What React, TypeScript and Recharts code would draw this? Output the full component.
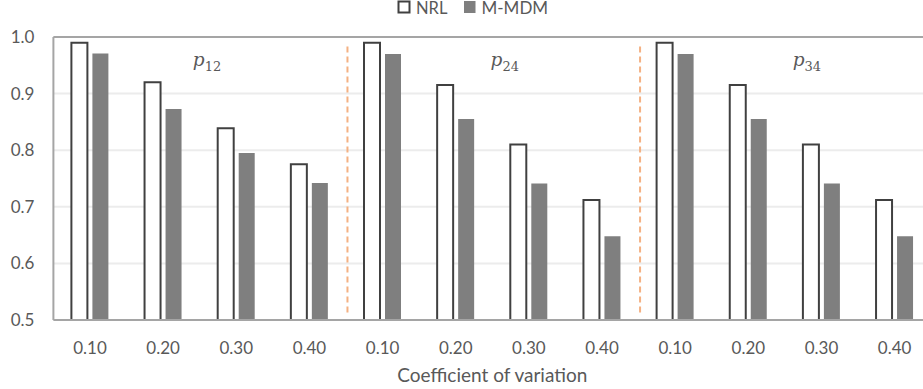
import React from 'react';
import {
  BarChart,
  Bar,
  XAxis,
  YAxis,
  CartesianGrid,
  ReferenceLine,
  ReferenceDot,
} from 'recharts';

const categories = ['0.10', '0.20', '0.30', '0.40', '0.10', '0.20', '0.30', '0.40', '0.10', '0.20', '0.30', '0.40'];
const nrlValues = [0.99, 0.92, 0.839, 0.775, 0.99, 0.915, 0.81, 0.712, 0.99, 0.915, 0.81, 0.712];
const mmdmValues = [0.971, 0.873, 0.795, 0.742, 0.97, 0.855, 0.741, 0.648, 0.97, 0.855, 0.741, 0.648];
const yTicks = [0.5, 0.6, 0.7, 0.8, 0.9, 1.0];
const panelNames = [
  { sub: '12', pos: 2.1 },
  { sub: '24', pos: 6.17 },
  { sub: '34', pos: 10.3 },
];
const separators = [4.02, 8.02];

const data = categories.map((c, i) => ({ cat: c, pos: i + 0.5, NRL: nrlValues[i], MMDM: mmdmValues[i] }));

const TEXT = '#595959';
const FONT = 'Lato, "Open Sans", sans-serif';
const BORDER = '#a5a5a5';

const makePLabel = (sub: string) => (props: any) => {
  const vb = props.viewBox || {};
  const cx = (vb.x ?? 0) + (vb.width ?? 0) / 2;
  const cy = (vb.y ?? 0) + (vb.height ?? 0) / 2;
  return (
    <text x={cx} y={cy} textAnchor="middle" fill={TEXT}>
      <tspan fontFamily='"DejaVu Serif", serif' fontStyle="italic" fontSize={18.5}>p</tspan>
      <tspan fontFamily='"DejaVu Serif", serif' fontSize={13} dy={4.7}>{sub}</tspan>
    </text>
  );
};

const AxisTitle = (props: any) => {
  const vb = props.viewBox || {};
  return (
    <text
      x={(vb.x ?? 0) + (vb.width ?? 0) / 2}
      y={(vb.y ?? 0) + 61.5}
      textAnchor="middle"
      fill={TEXT}
      fontSize={19}
      fontFamily={FONT}
    >
      Coefficient of variation
    </text>
  );
};

export default function App() {
  return (
    <div style={{ position: 'absolute', top: 0, left: 0, width: 923, height: 389, overflow: 'hidden', background: '#fff' }}>
      <BarChart
        width={960}
        height={389}
        data={data}
        margin={{ top: 37, right: 28.8, bottom: 0, left: 0 }}
        barSize={16}
        barGap={5}
      >
        <CartesianGrid vertical={false} stroke="#ececec" strokeWidth={2} />
        <XAxis
          dataKey="cat"
          interval={0}
          height={69}
          tickLine={false}
          tickSize={6}
          tickMargin={16}
          axisLine={{ stroke: BORDER, strokeWidth: 2 }}
          tick={{ fill: TEXT, fontSize: 17, fontFamily: FONT }}
          label={{ content: AxisTitle }}
        />
        <XAxis xAxisId="n" dataKey="pos" type="number" domain={[0, 12]} allowDataOverflow hide />
        <YAxis
          domain={[0.5, 1.0]}
          ticks={yTicks}
          width={53.4}
          tickLine={false}
          tickSize={6}
          tickMargin={13}
          tickFormatter={(v: number) => v.toFixed(1)}
          axisLine={{ stroke: BORDER, strokeWidth: 2 }}
          tick={{ fill: TEXT, fontSize: 17, fontFamily: FONT }}
          allowDataOverflow
        />
        <ReferenceLine y={1.0} stroke={BORDER} strokeWidth={2} />
        <Bar dataKey="NRL" fill="#ffffff" stroke="#404040" strokeWidth={2} isAnimationActive={false} />
        <Bar dataKey="MMDM" fill="#7f7f7f" isAnimationActive={false} />
        {separators.map((s) => (
          <ReferenceLine
            key={s}
            xAxisId="n"
            segment={[
              { x: s, y: 0.983 },
              { x: s, y: 0.513 },
            ]}
            stroke="#f4b183"
            strokeWidth={2}
            strokeDasharray="6 4"
          />
        ))}
        {panelNames.map((p) => (
          <ReferenceDot
            key={p.sub}
            xAxisId="n"
            x={p.pos}
            y={0.948}
            r={1}
            fill="none"
            stroke="none"
            label={{ content: makePLabel(p.sub) }}
          />
        ))}
      </BarChart>
      <svg width={923} height={22} style={{ position: 'absolute', top: 0, left: 0 }}>
        <rect x={398.5} y={1.5} width={11} height={11} fill="#fff" stroke="#404040" strokeWidth={2} />
        <text x={416} y={14} fontSize={16.5} fontFamily={FONT} fill={TEXT}>NRL</text>
        <rect x={464} y={1} width={11.5} height={12} fill="#7f7f7f" />
        <text x={481.5} y={14} fontSize={17} fontFamily={FONT} fill={TEXT}>M-MDM</text>
      </svg>
    </div>
  );
}
